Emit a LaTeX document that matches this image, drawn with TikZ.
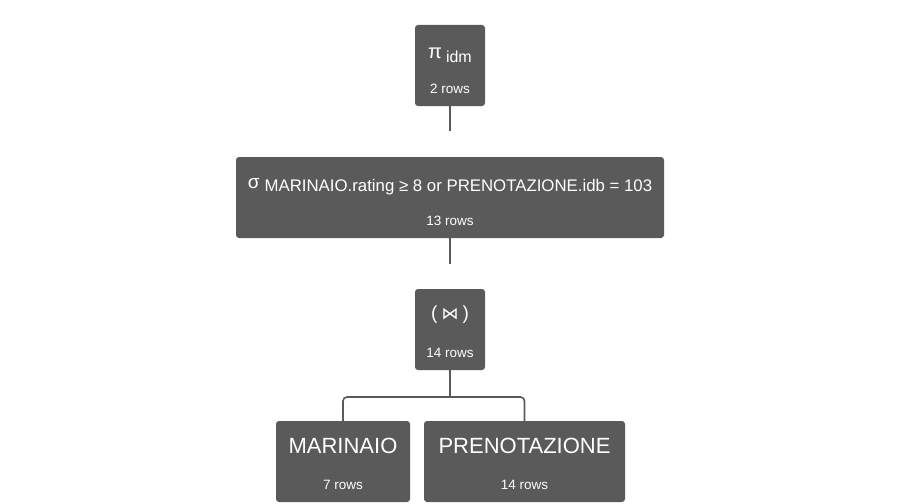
\documentclass[tikz,border=0pt]{standalone}
\usepackage{fontspec}
\setmainfont{Liberation Sans}
\newfontfamily\symfont{DejaVu Sans}
\definecolor{boxgray}{HTML}{5A5A5A}
\definecolor{linegray}{HTML}{5A5A5A}
\begin{document}
\begin{tikzpicture}[x=1pt,y=-1pt,
  box/.style={fill=boxgray, rounded corners=3pt, draw=none, inner sep=0pt, outer sep=0pt, anchor=north west},
  txt/.style={text=white, inner sep=0pt},
  rows/.style={txt, font=\fontsize{13.5}{14}\selectfont},
  big/.style={txt, font=\fontsize{22}{24}\selectfont},
  conn/.style={draw=linegray, line width=1.6pt}]
\useasboundingbox (0,0) rectangle (901,503);
% boxes
\node[box, minimum width=70pt, minimum height=81pt] (pi) at (415,25) {};
\node[box, minimum width=428pt, minimum height=81pt] (sig) at (236,157) {};
\node[box, minimum width=70pt, minimum height=81pt] (join) at (415,289) {};
\node[box, minimum width=134pt, minimum height=81pt] (mar) at (276,421) {};
\node[box, minimum width=201pt, minimum height=81pt] (pren) at (424,421) {};
% texts
\node[txt] (pit) at (450,55) {{\fontsize{20}{22}\selectfont π}\hspace{4pt}\raisebox{-4pt}{\fontsize{16}{18}\selectfont idm}};
\node[rows] (pir) at (450,89) {2 rows};
\node[txt] (sigt) at (450,187) {\raisebox{3pt}{\fontsize{19}{22}\selectfont σ}\hspace{5pt}{\fontsize{16.8}{18}\selectfont MARINAIO.rating ≥ 8 or PRENOTAZIONE.idb = 103}};
\node[rows] (sigr) at (450,221) {13 rows};
\node[txt] (joint) at (450,315) {{\fontsize{19}{22}\selectfont (\hspace{4pt}{\symfont\fontsize{17}{18}\selectfont ⋈}\hspace{4pt})}};
\node[rows] (joinr) at (450,353) {14 rows};
\node[big] (mart) at (343,446) {MARINAIO};
\node[rows] (marr) at (343,485) {7 rows};
\node[big] (prent) at (524.5,446) {PRENOTAZIONE};
\node[rows] (prenr) at (524.5,485) {14 rows};
% connectors
\coordinate (pistub) at (450,131);
\coordinate (sigstub) at (450,264);
\coordinate (jn) at (450,397);
\draw[conn] (pi.south) -- (pistub);
\draw[conn] (sig.south) -- (sigstub);
\draw[conn] (join.south) -- (jn);
\draw[conn, rounded corners=4pt] (mar.north) |- (jn) -| (pren.north);
\end{tikzpicture}
\end{document}
